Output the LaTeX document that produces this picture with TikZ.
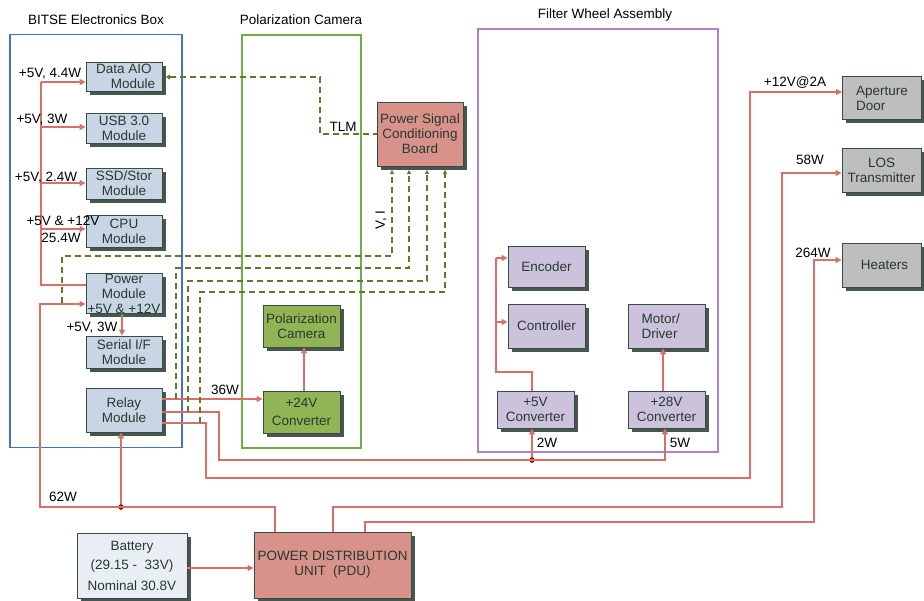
\documentclass[tikz,border=0pt]{standalone}
\usepackage{fontspec}
\setmainfont{Liberation Sans}
\usetikzlibrary{arrows.meta,shadows}

\definecolor{pwrc}{RGB}{214,112,104}
\definecolor{sigc}{RGB}{92,124,44}
\definecolor{boxline}{RGB}{52,78,66}
\definecolor{boxtext}{RGB}{38,58,48}
\definecolor{shadowc}{RGB}{72,86,80}
\definecolor{modfill}{RGB}{200,213,228}
\definecolor{camfill}{RGB}{146,180,84}
\definecolor{fwfill}{RGB}{205,194,219}
\definecolor{extfill}{RGB}{190,190,190}
\definecolor{pinkfill}{RGB}{217,146,138}
\definecolor{batfill}{RGB}{232,238,244}
\definecolor{bluefr}{RGB}{68,114,196}
\definecolor{greenfr}{RGB}{112,173,71}
\definecolor{purplefr}{RGB}{171,130,210}

\begin{document}
\begin{tikzpicture}[x=1pt,y=-1pt,
  font=\fontsize{13.5}{15}\selectfont,
  box/.style={draw=boxline, line width=0.9pt, inner sep=0pt, align=center,
    text=boxtext,
    drop shadow={shadow xshift=3.5pt,shadow yshift=-3.5pt,fill=shadowc,opacity=1}},
  module/.style={box, fill=modfill, minimum width=76pt},
  cambox/.style={box, fill=camfill, minimum width=77pt, minimum height=42pt},
  fwbox/.style={box, fill=fwfill, minimum width=77pt},
  extbox/.style={box, fill=extfill, minimum width=79pt, minimum height=43pt},
  frame/.style={draw, line width=1.2pt, inner sep=0pt},
  lbl/.style={inner sep=0pt, text=black},
  pwr/.style={draw=pwrc, line width=1.7pt},
  pwrarrow/.style={pwr, -{Triangle[length=6pt,width=6pt]}},
  sig/.style={draw=sigc, line width=2pt, dash pattern=on 6pt off 4pt},
  dot/.style={circle, fill=red!90!black, draw=black, line width=0.4pt,
    inner sep=0pt, minimum size=5pt}]
\useasboundingbox (0,0) rectangle (924,600);

% ---------- enclosures ----------
\node[frame, draw=bluefr, minimum width=172pt, minimum height=413pt] (ebox) at (96,241) {};
\node[frame, draw=greenfr, minimum width=119pt, minimum height=413pt] (cbox) at (301.5,241.5) {};
\node[frame, draw=purplefr, minimum width=240pt, minimum height=423pt] (fbox) at (598,240.5) {};
\node[lbl] (etitle) at (96,20) {BITSE Electronics Box};
\node[lbl] (ctitle) at (301,20) {Polarization Camera};
\node[lbl] (ftitle) at (605,15) {Filter Wheel Assembly};

% ---------- electronics box modules ----------
\node[module, minimum height=29pt] (dataaio) at (124,76.5) {Data AIO\\\hspace*{18pt}Module};
\node[module, minimum height=30pt] (usb) at (124,128) {USB 3.0\\Module};
\node[module, minimum height=31pt] (ssd) at (124,183.5) {SSD/Stor\\Module};
\node[module, minimum height=32pt] (cpu) at (124,231) {CPU\\Module};
\node[module, minimum height=39pt] (power) at (124,293.5) {Power\\Module\\+5V \& +12V};
\node[module, minimum height=32pt] (serial) at (124,352) {Serial I/F\\Module};
\node[module, minimum height=44pt] (relay) at (124,410) {Relay\\Module};

% ---------- polarization camera ----------
\node[cambox] (pcam) at (301.5,326) {Polarization\\Camera};
\node[cambox] (conv24) at (301.5,412) {+24V\\[3pt]Converter};

% ---------- signal conditioning ----------
\node[box, fill=pinkfill, minimum width=86pt, minimum height=64pt] (pscb) at (420,134)
  {Power Signal\\Conditioning\\Board};

% ---------- filter wheel ----------
\node[fwbox, minimum height=41pt] (encoder) at (546.5,266.5) {Encoder};
\node[fwbox, minimum height=44pt] (controller) at (546.5,326) {Controller};
\node[fwbox, minimum height=44pt, align=left] (motor) at (666.5,326) {Motor/\\Driver\hspace*{14pt}};
\node[fwbox, minimum height=37pt] (conv5) at (535.5,409.5) {+5V\\Converter};
\node[fwbox, minimum height=37pt] (conv28) at (666.5,409.5) {+28V\\Converter};

% ---------- external loads ----------
\node[extbox, align=left] (aperture) at (882,98) {Aperture\\Door\hspace*{22pt}};
\node[extbox, minimum height=44pt] (los) at (881.5,170) {LOS\\Transmitter};
\node[extbox, minimum height=44pt] (heaters) at (881.5,265) {\hspace*{6pt}Heaters};

% ---------- supply ----------
\node[box, fill=batfill, minimum width=110pt, minimum height=65pt] (battery) at (132,565.5)
  {Battery\\[4pt](29.15 -\ \ 33V)\\[6pt]Nominal 30.8V};
\node[box, fill=pinkfill, minimum width=157pt, minimum height=66pt] (pdu) at (332.5,565)
  {POWER DISTRIBUTION\\UNIT\ \ (PDU)};

% ---------- power distribution inside electronics box ----------
\coordinate (busT) at (41,82);
\coordinate (busB) at (41,285);
\draw[pwr] (power.west |- busB) -- (busB) -- (busT);
\draw[pwrarrow] (busT) -- (dataaio.west |- busT);
\draw[pwrarrow] (41,127) -- (usb.west |- 41,127);
\draw[pwrarrow] (41,183) -- (ssd.west |- 41,183);
\draw[pwrarrow] (41,229) -- (cpu.west |- 41,229);
\draw[pwrarrow] (power.south -| 122,0) -- (serial.north -| 122,0);

% PDU feed to power and relay modules
\node[dot] (j62) at (121,507) {};
\draw[pwrarrow] (pdu.north -| 275,0) -- (275,507) -- (40,507) -- (40,304) -- (power.west |- 40,304);
\draw[pwrarrow] (j62) -- (relay.south -| j62);

% relay outputs
\draw[pwrarrow] (relay.east |- 0,399) -- (conv24.west |- 0,399);
\node[dot] (j5) at (532,460) {};
\draw[pwrarrow] (relay.east |- 0,412) -- (219,412) -- (219,460) -- (665,460) -- (conv28.south -| 665,0);
\draw[pwrarrow] (j5) -- (conv5.south -| j5);
\draw[pwrarrow] (relay.east |- 0,423) -- (206,423) -- (206,478) -- (750,478) -- (750,92) -- (aperture.west |- 0,92);

% PDU direct feeds
\draw[pwrarrow] (pdu.north -| 333,0) -- (333,507) -- (782,507) -- (782,173) -- (los.west |- 0,173);
\draw[pwrarrow] (pdu.north -| 365,0) -- (365,522) -- (814,522) -- (814,260) -- (heaters.west |- 0,260);

% battery to PDU
\draw[pwrarrow] (battery.east |- 0,568) -- (pdu.west |- 0,568);

% camera converter
\draw[pwrarrow] (conv24.north -| 304,0) -- (pcam.south -| 304,0);

% filter wheel converters
\draw[pwr] (conv5.north -| 532,0) -- (532,372) -- (496,372) -- (496,258);
\draw[pwrarrow] (496,258) -- (encoder.west |- 0,258);
\draw[pwrarrow] (496,322) -- (controller.west |- 0,322);
\draw[pwrarrow] (conv28.north -| 663,0) -- (motor.south -| 663,0);

% ---------- telemetry / sensing lines ----------
\draw[sig, {Triangle[length=4pt,width=5pt]}-] ([xshift=3.5pt]dataaio.east |- 0,77) -- (320,77) -- (320,134) -- (pscb.west);
\draw[sig, -{Triangle[length=4pt,width=4pt]}] (62,303) -- (62,256) -- (392,256) -- ([yshift=-3.5pt]pscb.south -| 392,0);
\draw[sig, -{Triangle[length=4pt,width=4pt]}] (176,399) -- (176,268) -- (409,268) -- ([yshift=-3.5pt]pscb.south -| 409,0);
\draw[sig, -{Triangle[length=4pt,width=4pt]}] (188,412) -- (188,281) -- (427,281) -- ([yshift=-3.5pt]pscb.south -| 427,0);
\draw[sig, -{Triangle[length=4pt,width=4pt]}] (200,423) -- (200,292) -- (445,292) -- ([yshift=-3.5pt]pscb.south -| 445,0);

% ---------- labels ----------
\node[lbl] (t1) at (50,74) {+5V, 4.4W};
\node[lbl] (t2) at (42,120) {+5V, 3W};
\node[lbl] (t3) at (46,178) {+5V, 2.4W};
\node[lbl] (t4) at (63,221) {+5V \& +12V};
\node[lbl] (t5) at (61,238) {25.4W};
\node[lbl] (t6) at (92,328) {+5V, 3W};
\node[lbl] (t7) at (225,390) {36W};
\node[lbl] (t8) at (63,497) {62W};
\node[lbl] (t9) at (547,443) {2W};
\node[lbl] (t10) at (680,443) {5W};
\node[lbl] (t11) at (795,83) {+12V@2A};
\node[lbl] (t12) at (810,160) {58W};
\node[lbl] (t13) at (813,253) {264W};
\node[lbl] (tlm) at (343,127) {TLM};
\node[lbl, rotate=90] (vi) at (381,220) {V, I};
\end{tikzpicture}
\end{document}
